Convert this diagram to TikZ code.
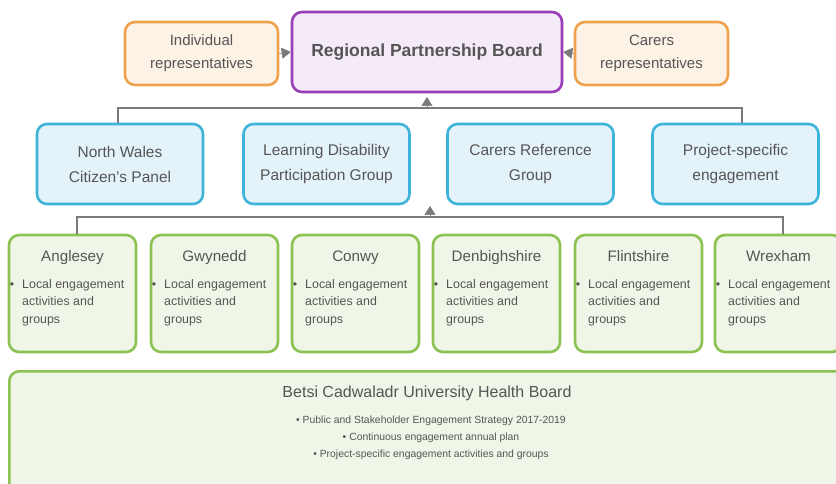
\documentclass[tikz,border=0pt]{standalone}
\usepackage{fontspec}
\setmainfont{Liberation Sans}
\usetikzlibrary{arrows.meta}
\definecolor{txt}{HTML}{555555}
\definecolor{conncol}{HTML}{7A7A7A}
\definecolor{orbd}{HTML}{EFA24E}
\definecolor{orfl}{HTML}{FDF2E6}
\definecolor{pubd}{HTML}{9B3CB7}
\definecolor{pufl}{HTML}{F5EAF8}
\definecolor{blbd}{HTML}{3FB4DA}
\definecolor{blfl}{HTML}{E4F3F9}
\definecolor{grbd}{HTML}{8CC251}
\definecolor{grfl}{HTML}{F0F6E7}
\tikzset{
  box/.style={draw, line width=2.6pt, rounded corners=10pt, inner sep=0pt, text=txt, align=center},
  orbox/.style={box, draw=orbd, fill=orfl, minimum width=153pt, minimum height=63pt, font=\fontsize{15}{23}\selectfont},
  pubox/.style={box, draw=pubd, fill=pufl, minimum width=270pt, minimum height=80pt, font=\fontsize{17.5}{20}\selectfont\bfseries},
  blbox/.style={box, draw=blbd, fill=blfl, minimum width=166pt, minimum height=80pt, font=\fontsize{15.5}{25}\selectfont},
  grbox/.style={box, draw=grbd, fill=grfl, minimum width=127pt, minimum height=117pt},
  gtitle/.style={text=txt, font=\fontsize{15.2}{17}\selectfont, inner sep=0pt, text height=11pt, text depth=3.5pt},
  gbody/.style={text=txt, font=\fontsize{12.4}{17.5}\selectfont, inner sep=0pt, anchor=north west},
  conn/.style={draw=conncol, line width=2.6pt},
  tip/.style={draw=conncol, fill=conncol, line width=0.5pt, -{Triangle[length=9pt,width=11pt]}},
}
\newcommand{\localtext}{\begin{tabular}{@{}l@{\hspace{8pt}}l@{}}\textbullet & Local engagement\\ & activities and\\ & groups\end{tabular}}
\begin{document}
\begin{tikzpicture}[x=1pt,y=-1pt]
\clip (0,0) rectangle (836,484);
\fill[white] (0,0) rectangle (836,484);
% top row
\node[pubox] (board) at (427,52) {Regional Partnership Board};
\node[orbox] (ind) at (201.5,53.5) {Individual\\representatives};
\node[orbox] (car) at (651.5,53.5) {Carers\\representatives};
\draw[tip] (ind.east) -- (board.west);
\draw[tip] (car.west) -- (board.east);
% second row
\node[blbox] (nw) at (120,164) {North Wales\\Citizen's Panel};
\node[blbox] (ld) at (326.5,164) {Learning Disability\\Participation Group};
\node[blbox] (cr) at (530.5,164) {Carers Reference\\Group};
\node[blbox] (ps) at (735.5,164) {Project-specific\\engagement};
\coordinate (h1) at (427,108);
\coordinate (t1) at (427,97);
\draw[conn] ([xshift=-2pt]nw.north) -- ([xshift=-2pt]nw.north |- h1) -- ([xshift=6.5pt]ps.north |- h1) -- ([xshift=6.5pt]ps.north);
\draw[tip] (h1) -- (t1);
% third row
\foreach \n/\cx/\t in {ang/72.5/Anglesey, gwy/214.5/Gwynedd, con/355.5/Conwy, den/496.5/Denbighshire, fli/638.5/Flintshire, wre/778.5/Wrexham}{
  \node[grbox] (\n) at (\cx,293.5) {};
  \node[gtitle] (\n-t) at (\cx,258) {\t};
  \node[gbody] (\n-b) at ([xshift=2pt,yshift=-42pt]\n.north west) {\localtext};
}
\coordinate (h2) at (430,217);
\coordinate (t2) at (430,206);
\draw[conn] ([xshift=4.5pt]ang.north) -- ([xshift=4.5pt]ang.north |- h2) -- ([xshift=4.5pt]wre.north |- h2) -- ([xshift=4.5pt]wre.north);
\draw[tip] (h2) -- (t2);
% bottom box
\node[box, draw=grbd, fill=grfl, minimum width=842pt, minimum height=140pt, anchor=north west] (bc) at (8,370) {};
\node[gtitle, font=\fontsize{16}{18}\selectfont] (bc-t) at (427,394) {Betsi Cadwaladr University Health Board};
\node[text=txt, align=center, inner sep=0pt, font=\fontsize{10.4}{17}\selectfont, anchor=north] (bc-b) at (431,416) {\textbullet\ Public and Stakeholder Engagement Strategy 2017-2019\\\textbullet\ Continuous engagement annual plan\\\textbullet\ Project-specific engagement activities and groups};
\end{tikzpicture}
\end{document}
